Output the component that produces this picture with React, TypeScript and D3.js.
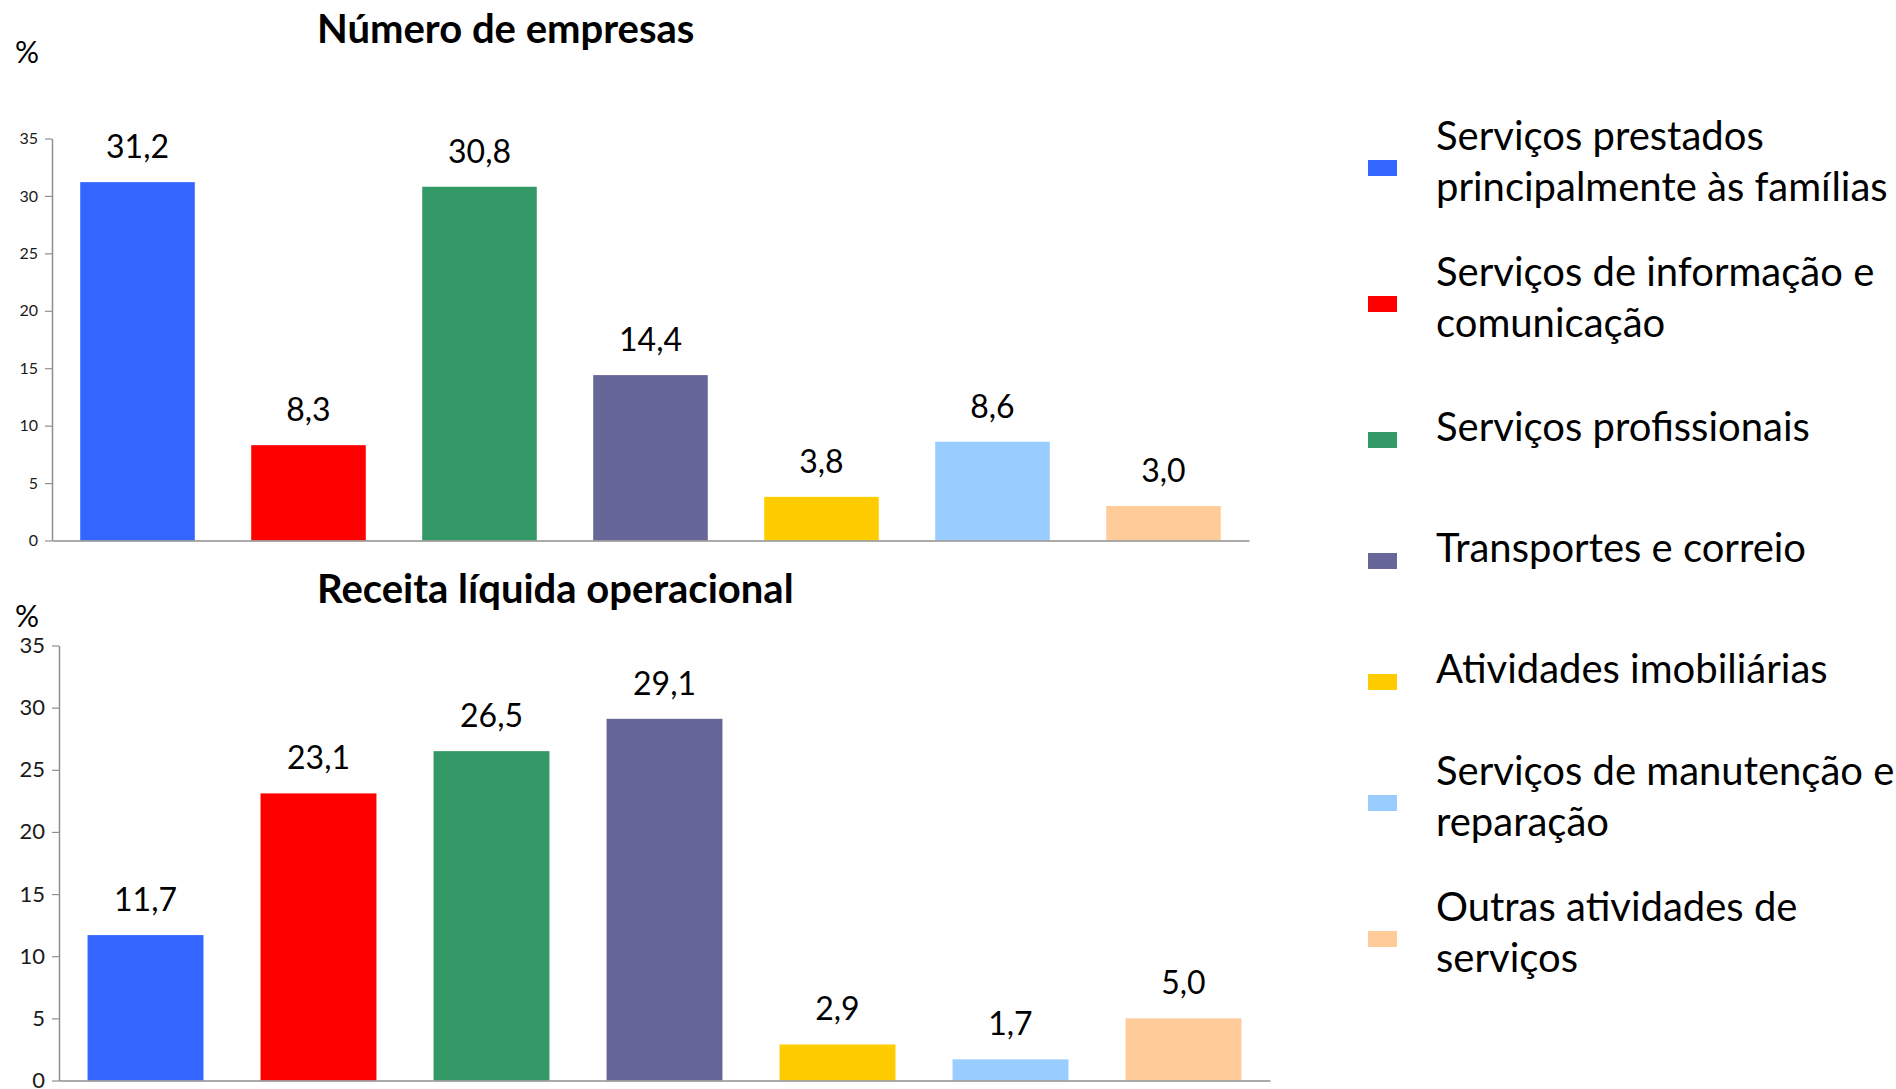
import React, { useEffect, useRef } from 'react';
import * as d3 from 'd3';

// categorias (ordem das barras e da legenda)
const categories = [
  'Serviços prestados principalmente às famílias',
  'Serviços de informação e comunicação',
  'Serviços profissionais',
  'Transportes e correio',
  'Atividades imobiliárias',
  'Serviços de manutenção e reparação',
  'Outras atividades de serviços',
];

const legendLines = [
  ['Serviços prestados', 'principalmente às famílias'],
  ['Serviços de informação e', 'comunicação'],
  ['Serviços profissionais'],
  ['Transportes e correio'],
  ['Atividades imobiliárias'],
  ['Serviços de manutenção e', 'reparação'],
  ['Outras atividades de', 'serviços'],
];

const empresasValues = [31.2, 8.3, 30.8, 14.4, 3.8, 8.6, 3.0];
const receitaValues = [11.7, 23.1, 26.5, 29.1, 2.9, 1.7, 5.0];

const yTicks = [0, 5, 10, 15, 20, 25, 30, 35];

const colors = ['#3366FF', '#FF0000', '#339966', '#666699', '#FFCC00', '#99CCFF', '#FFCC99'];

const titles = ['Número de empresas', 'Receita líquida operacional'];

const FONT = 'Lato, "Open Sans", sans-serif';
const ptBR = d3.formatLocale({ decimal: ',', thousands: '.', grouping: [3], currency: ['R$', ''] });
const fmt = ptBR.format('.1f');

const App = () => {
  const svgRef = useRef<SVGSVGElement>(null);

  useEffect(() => {
    document.body.style.margin = '0';
    renderChart();
  }, []);

  const drawPanel = (svg, opts) => {
    const { values, title, xRange, yRange, tickFont, titleY, pctY } = opts;

    const x = d3.scaleBand().domain(categories).range(xRange).paddingInner(0.33).paddingOuter(0.165);
    const y = d3.scaleLinear().domain([0, 35]).range(yRange);

    const g = svg.append('g');

    // bars
    g.selectAll('.bar')
      .data(values)
      .enter().append('rect')
      .attr('x', (d, i) => x(categories[i]))
      .attr('width', x.bandwidth())
      .attr('y', d => y(d))
      .attr('height', d => y(0) - y(d))
      .attr('fill', (d, i) => colors[i]);

    // value labels
    g.selectAll('.lbl')
      .data(values)
      .enter().append('text')
      .attr('x', (d, i) => x(categories[i]) + x.bandwidth() / 2)
      .attr('y', d => y(d) - 24)
      .attr('text-anchor', 'middle')
      .style('font-family', FONT)
      .style('font-size', '32px')
      .style('fill', '#000')
      .text(d => fmt(d));

    // y axis
    const yAxis = g.append('g')
      .attr('transform', `translate(${xRange[0]},0)`)
      .call(d3.axisLeft(y).tickValues(yTicks).tickSize(7).tickSizeOuter(0).tickPadding(7).tickFormat(d3.format('d')));
    yAxis.select('.domain').attr('stroke', '#8f8f8f').attr('stroke-width', 1.5);
    yAxis.selectAll('.tick line').attr('stroke', '#8f8f8f').attr('stroke-width', 1.2);
    yAxis.selectAll('text')
      .style('font-family', FONT)
      .style('font-size', `${tickFont}px`)
      .style('fill', '#1a1a1a');

    // x axis line
    const xAxis = g.append('g')
      .attr('transform', `translate(0,${y(0)})`)
      .call(d3.axisBottom(x).tickSize(0).tickSizeOuter(0).tickFormat(() => ''));
    xAxis.select('.domain').attr('stroke', '#8f8f8f').attr('stroke-width', 1.5);

    // title
    svg.append('text')
      .attr('x', 317)
      .attr('y', titleY)
      .style('font-family', FONT)
      .style('font-size', '40px')
      .style('font-weight', 700)
      .style('fill', '#000')
      .text(title);

    svg.append('text')
      .attr('x', 27)
      .attr('y', pctY)
      .attr('text-anchor', 'middle')
      .style('font-family', FONT)
      .style('font-size', '30px')
      .style('fill', '#000')
      .text('%');
  };

  const renderChart = () => {
    const svg = d3.select(svgRef.current);
    svg.selectAll('*').remove();

    drawPanel(svg, {
      values: empresasValues,
      title: titles[0],
      xRange: [52, 1249],
      yRange: [540.5, 138.5],
      tickFont: 16,
      titleY: 43,
      pctY: 63,
    });

    drawPanel(svg, {
      values: receitaValues,
      title: titles[1],
      xRange: [59, 1270],
      yRange: [1080.5, 645.5],
      tickFont: 22,
      titleY: 603,
      pctY: 627,
    });

    // legend
    const legend = svg.append('g');
    let cy = 168;
    legendLines.forEach((lines, i) => {
      if (i > 0) cy += 121 + (legendLines[i - 1].length - 1) * 15;
      legend.append('rect')
        .attr('x', 1368)
        .attr('y', cy - 8)
        .attr('width', 29)
        .attr('height', 16)
        .attr('fill', colors[i]);
      const firstBase = lines.length > 1 ? cy - 18 : cy + 1;
      lines.forEach((line, j) => {
        legend.append('text')
          .attr('x', 1436)
          .attr('y', firstBase + j * 50.5)
          .style('font-family', FONT)
          .style('font-size', '40px')
          .style('fill', '#000')
          .text(line);
      });
    });
  };

  return (
    <svg ref={svgRef} width={1896} height={1089} style={{ display: 'block', background: '#fff' }} />
  );
};

export default App;
